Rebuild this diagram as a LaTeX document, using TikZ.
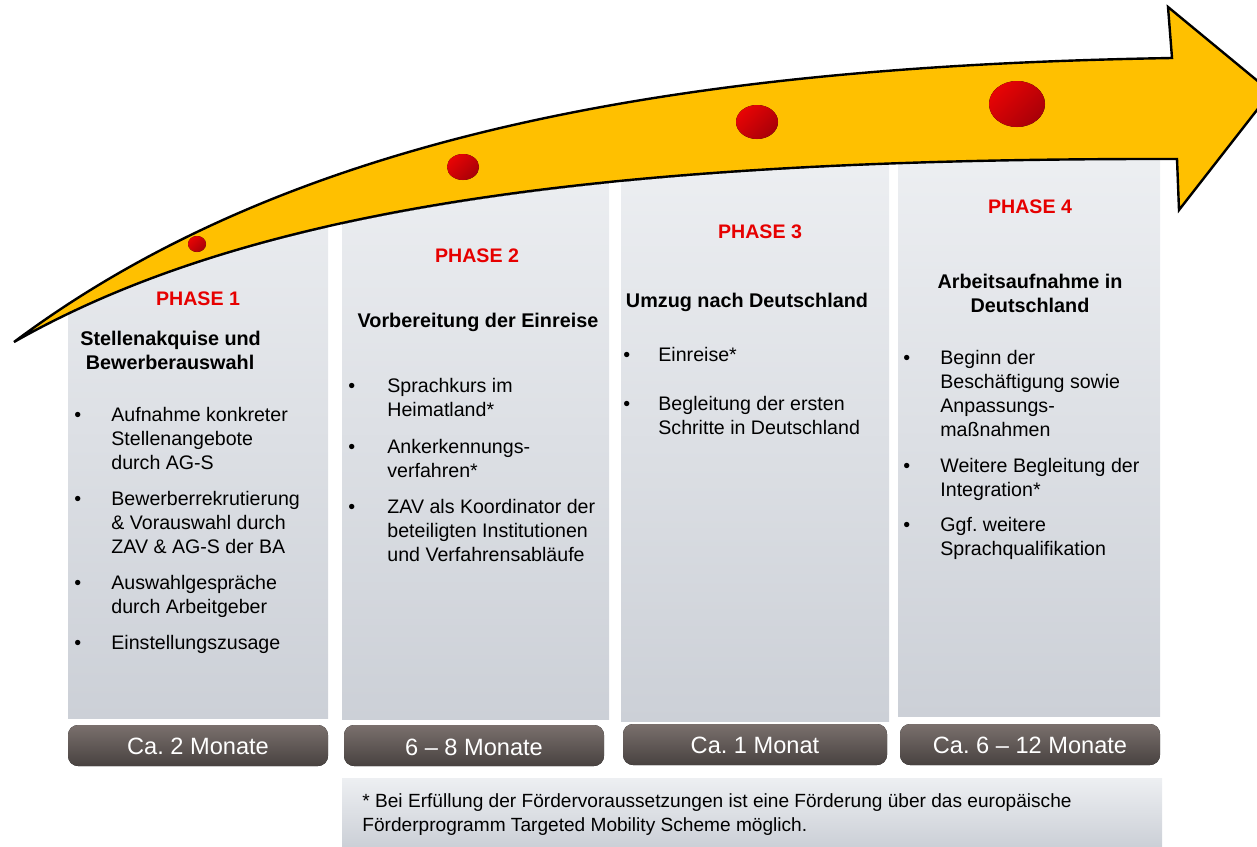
\documentclass[tikz,border=0pt]{standalone}
\usepackage{fontspec}
\setmainfont{Liberation Sans}
\usetikzlibrary{positioning}
\frenchspacing
\definecolor{panelTop}{RGB}{237,239,242}
\definecolor{panelBot}{RGB}{204,208,215}
\definecolor{monTop}{RGB}{122,112,109}
\definecolor{monBot}{RGB}{72,66,64}
\definecolor{arrowYellow}{RGB}{255,192,0}
\definecolor{phaseRed}{RGB}{230,0,0}
\definecolor{dotIn}{RGB}{232,4,4}
\definecolor{dotOut}{RGB}{168,0,8}
\tikzset{
  panel/.style={top color=panelTop,bottom color=panelBot,draw=none},
  monbox/.style={top color=monTop,bottom color=monBot,rounded corners=5,draw=none},
  phase/.style={text=phaseRed,font=\fontsize{9.8}{12}\selectfont\bfseries,inner sep=0},
  title/.style={font=\fontsize{9.9}{12}\selectfont\bfseries,align=center,inner sep=0},
  item/.style={font=\fontsize{9.8}{12}\selectfont,align=left,anchor=north west,inner sep=0},
  bul/.style={font=\fontsize{9.8}{12}\selectfont,anchor=north west,inner sep=0},
  montxt/.style={text=white,font=\fontsize{11.8}{14}\selectfont,inner sep=0},
  reddot/.style={top color=dotIn,bottom color=dotOut,shading angle=45,draw=none}
}
\begin{document}
\frenchspacing
\begin{tikzpicture}[x=0.5pt,y=-0.5pt]
\useasboundingbox (0,0) rectangle (1257,846);
% panels, cut off below the arrow
\begin{scope}
\clip (14,342) .. controls (250,210) and (600,160) .. (1177,159) -- (1257,159) -- (1257,846) -- (0,846) -- (0,342) -- cycle;
\fill[panel] (68,150) rectangle (328,718);
\fill[panel] (342,150) rectangle (609,719);
\fill[panel] (621,150) rectangle (889,721);
\fill[panel] (898,150) rectangle (1160,716);
\end{scope}
% arrow
\draw[fill=arrowYellow,line width=1.2pt,line join=miter] (14,342) .. controls (300,128) and (700,66) .. (1172,58) -- (1168,7) -- (1271,92) -- (1179,210) -- (1177,159) .. controls (600,158) and (250,208) .. (14,342) -- cycle;
\fill[reddot] (197,244) ellipse [x radius=9, y radius=8];
\fill[reddot] (463,167) ellipse [x radius=16, y radius=13];
\fill[reddot] (757,122) ellipse [x radius=21, y radius=17];
\fill[reddot] (1017,104) ellipse [x radius=28, y radius=23];
% phase 1
\node[phase] (ph1) at (198,299) {PHASE 1};
\node[title,align=left,anchor=north west] (t1) at (80,328) {\strut Stellenakquise und\\ \ Bewerberauswahl};
\node[bul] at (74,404) {\strut •};
\node[item] (i11) at (111,404) {\strut Aufnahme konkreter\\Stellenangebote\\durch AG-S};
\node[bul] at (74,488) {\strut •};
\node[item] (i12) at (111,488) {\strut Bewerberrekrutierung\\\& Vorauswahl durch\\ZAV \& AG-S der BA};
\node[bul] at (74,572) {\strut •};
\node[item] (i13) at (111,572) {\strut Auswahlgespräche\\durch Arbeitgeber};
\node[bul] at (74,632) {\strut •};
\node[item] (i14) at (111,632) {\strut Einstellungszusage};
% phase 2
\node[phase] (ph2) at (477,256) {PHASE 2};
\node[title] (t2) at (478,322) {Vorbereitung der Einreise};
\node[bul] at (348,375) {\strut •};
\node[item] (i21) at (387,375) {\strut Sprachkurs im\\Heimatland*};
\node[bul] at (348,436) {\strut •};
\node[item] (i22) at (387,436) {\strut Ankerkennungs-\\verfahren*};
\node[bul] at (348,496) {\strut •};
\node[item] (i23) at (387,496) {\strut ZAV als Koordinator der\\beteiligten Institutionen\\und Verfahrensabläufe};
% phase 3
\node[phase] (ph3) at (760,232) {PHASE 3};
\node[title] (t3) at (747,302) {Umzug nach Deutschland};
\node[bul] at (623,344) {\strut •};
\node[item] (i31) at (658,344) {\strut Einreise*};
\node[bul] at (623,393) {\strut •};
\node[item] (i32) at (658,393) {\strut Begleitung der ersten\\Schritte in Deutschland};
% phase 4
\node[phase] (ph4) at (1030,207) {PHASE 4};
\node[title,anchor=north] (t4) at (1030,271) {\strut Arbeitsaufnahme in\\Deutschland};
\node[bul] at (903,347) {\strut •};
\node[item] (i41) at (940,347) {\strut Beginn der\\Beschäftigung sowie\\Anpassungs-\\maßnahmen};
\node[bul] at (903,455) {\strut •};
\node[item] (i42) at (940,455) {\strut Weitere Begleitung der\\Integration*};
\node[bul] at (903,514) {\strut •};
\node[item] (i43) at (940,514) {\strut Ggf. weitere\\Sprachqualifikation};
% durations
\fill[monbox] (68,725) rectangle (328,766);
\node[montxt] (m1) at (198,746) {Ca. 2 Monate};
\fill[monbox] (344,725) rectangle (604,766);
\node[montxt] (m2) at (474,747) {6 – 8 Monate};
\fill[monbox] (623,724) rectangle (887,765);
\node[montxt] (m3) at (755,745) {Ca. 1 Monat};
\fill[monbox] (900,724) rectangle (1160,765);
\node[montxt] (m4) at (1030,745) {Ca. 6 – 12 Monate};
% footnote
\fill[panel] (342,778) rectangle (1162,846);
\node[item,font=\fontsize{9.55}{12}\selectfont] (fn) at (362,790) {\strut * Bei Erfüllung der Fördervoraussetzungen ist eine Förderung über das europäische\\Förderprogramm Targeted Mobility Scheme möglich.};
\end{tikzpicture}
\end{document}
